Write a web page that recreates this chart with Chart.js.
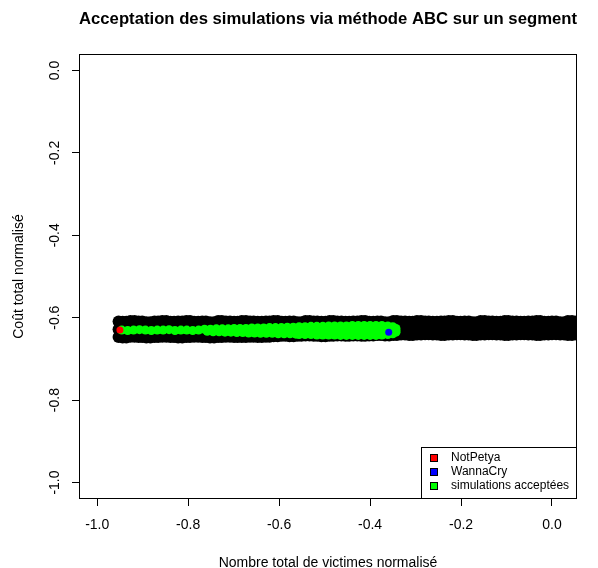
<!DOCTYPE html>
<html>
<head>
<meta charset="utf-8">
<script src="https://cdn.jsdelivr.net/npm/chart.js@4.4.1/dist/chart.umd.min.js"></script>
<style>
  body { margin: 0; background: #fff; }
  #abcChart { display: block; }
</style>
</head>
<body>
<canvas id="abcChart" width="598" height="568"></canvas>
<script>
// axis ticks
const xTicks = [-1.0, -0.8, -0.6, -0.4, -0.2, 0.0];
const yTicks = [-1.0, -0.8, -0.6, -0.4, -0.2, 0.0];

// observed events
const notPetya = { x: -0.950, y: -0.630 };
const wannaCry = { x: -0.359, y: -0.635 };

// all simulations (dense black cloud), read column by column
const simX = [
  -0.953, -0.936, -0.918, -0.901, -0.883, -0.866, -0.848, -0.831, -0.813, -0.796,
  -0.778, -0.761, -0.743, -0.726, -0.708, -0.691, -0.673, -0.656, -0.638, -0.621,
  -0.603, -0.586, -0.568, -0.551, -0.533, -0.516, -0.498, -0.481, -0.463, -0.446,
  -0.428, -0.411, -0.393, -0.376, -0.358, -0.341, -0.323, -0.306, -0.288, -0.271,
  -0.253, -0.236, -0.218, -0.201, -0.183, -0.166, -0.148, -0.131, -0.113, -0.096,
  -0.078, -0.061, -0.043, -0.026, -0.008, 0.009, 0.027, 0.044, 0.062
];
// extra simulations along the upper and lower edges of the cloud
const simXEdge = [
  -0.944, -0.927, -0.909, -0.892, -0.874, -0.857, -0.839, -0.822, -0.804, -0.787,
  -0.769, -0.752, -0.734, -0.717, -0.699, -0.682, -0.664, -0.647, -0.629, -0.612,
  -0.594, -0.577, -0.559, -0.542, -0.524, -0.507, -0.489, -0.472, -0.454, -0.437,
  -0.419, -0.402, -0.384, -0.367, -0.349, -0.332, -0.314, -0.297, -0.279, -0.262,
  -0.244, -0.227, -0.209, -0.192, -0.174, -0.157, -0.139, -0.122, -0.104, -0.087,
  -0.069, -0.052, -0.034, -0.017, 0.000, 0.018, 0.035, 0.053
];
const simYTop = [
  -0.609, -0.610, -0.608, -0.609, -0.611, -0.609, -0.608, -0.610, -0.609, -0.608,
  -0.610, -0.609, -0.611, -0.608, -0.609, -0.610, -0.608, -0.609, -0.610, -0.609,
  -0.608, -0.610, -0.609, -0.611, -0.608, -0.609, -0.610, -0.608, -0.609, -0.610,
  -0.609, -0.608, -0.610, -0.609, -0.611, -0.608, -0.609, -0.610, -0.608, -0.609,
  -0.610, -0.609, -0.608, -0.610, -0.609, -0.611, -0.608, -0.609, -0.610, -0.608,
  -0.609, -0.610, -0.609, -0.608, -0.610, -0.609, -0.611, -0.608, -0.609
];
const simYMid = [
  -0.628, -0.627, -0.629, -0.628, -0.627, -0.628, -0.629, -0.628, -0.627, -0.628,
  -0.629, -0.628, -0.627, -0.628, -0.629, -0.628, -0.627, -0.628, -0.629, -0.628,
  -0.627, -0.628, -0.629, -0.628, -0.627, -0.628, -0.629, -0.628, -0.627, -0.628,
  -0.629, -0.628, -0.627, -0.628, -0.629, -0.628, -0.627, -0.628, -0.629, -0.628,
  -0.627, -0.628, -0.629, -0.628, -0.627, -0.628, -0.629, -0.628, -0.627, -0.628,
  -0.629, -0.628, -0.627, -0.628, -0.629, -0.628, -0.627, -0.628, -0.629
];
const simYBot = [
  -0.647, -0.648, -0.646, -0.647, -0.648, -0.647, -0.646, -0.647, -0.648, -0.647,
  -0.646, -0.647, -0.648, -0.647, -0.646, -0.647, -0.647, -0.646, -0.647, -0.646,
  -0.645, -0.644, -0.645, -0.644, -0.643, -0.644, -0.645, -0.644, -0.643, -0.644,
  -0.643, -0.644, -0.643, -0.642, -0.643, -0.642, -0.641, -0.642, -0.641, -0.640,
  -0.641, -0.642, -0.641, -0.640, -0.641, -0.642, -0.641, -0.640, -0.641, -0.642,
  -0.641, -0.640, -0.641, -0.642, -0.641, -0.640, -0.641, -0.642, -0.641
];

// accepted simulations (green)
const accX = [
  // thin left part
  -0.946, -0.933, -0.920, -0.907, -0.894, -0.881, -0.868, -0.855, -0.842, -0.829, -0.816, -0.803, -0.790, -0.777,
  // middle, upper / lower
  -0.764, -0.751, -0.738, -0.725, -0.712, -0.699, -0.686, -0.673, -0.660, -0.647, -0.634, -0.621, -0.608, -0.595, -0.582, -0.569,
  -0.758, -0.745, -0.732, -0.719, -0.706, -0.693, -0.680, -0.667, -0.654, -0.641, -0.628, -0.615, -0.602, -0.589, -0.576, -0.563,
  // wide right part, three rows
  -0.556, -0.543, -0.530, -0.517, -0.504, -0.491, -0.478, -0.465, -0.452, -0.439, -0.426, -0.413, -0.400, -0.387, -0.374, -0.361, -0.350, -0.343,
  -0.556, -0.543, -0.530, -0.517, -0.504, -0.491, -0.478, -0.465, -0.452, -0.439, -0.426, -0.413, -0.400, -0.387, -0.374, -0.361, -0.350, -0.343,
  -0.556, -0.543, -0.530, -0.517, -0.504, -0.491, -0.478, -0.465, -0.452, -0.439, -0.426, -0.413, -0.400, -0.387, -0.374, -0.361, -0.350, -0.343
];
const accY = [
  -0.630, -0.631, -0.630, -0.629, -0.630, -0.631, -0.630, -0.630, -0.629, -0.631, -0.630, -0.630, -0.631, -0.630,
  -0.628, -0.628, -0.627, -0.627, -0.627, -0.626, -0.626, -0.626, -0.625, -0.625, -0.625, -0.624, -0.624, -0.624, -0.623, -0.623,
  -0.633, -0.634, -0.634, -0.635, -0.635, -0.636, -0.636, -0.637, -0.637, -0.638, -0.638, -0.638, -0.639, -0.639, -0.639, -0.640,
  -0.622, -0.622, -0.621, -0.621, -0.621, -0.620, -0.620, -0.620, -0.620, -0.619, -0.619, -0.619, -0.619, -0.619, -0.619, -0.620, -0.622, -0.626,
  -0.631, -0.630, -0.631, -0.632, -0.631, -0.630, -0.631, -0.632, -0.631, -0.630, -0.631, -0.632, -0.631, -0.630, -0.631, -0.632, -0.631, -0.631,
  -0.641, -0.641, -0.641, -0.642, -0.642, -0.642, -0.642, -0.643, -0.643, -0.643, -0.643, -0.643, -0.643, -0.643, -0.642, -0.641, -0.639, -0.635
];

const legendLabels = ['NotPetya', 'WannaCry', 'simulations acceptées'];
const legendColors = ['#ff0000', '#0000ff', '#00ff00'];

const FONT = "'Liberation Sans', Arial, sans-serif";

var simData = [];
simX.forEach(function(x, i) {
    simData.push({ x: x, y: simYTop[i] }, { x: x, y: simYMid[i] }, { x: x, y: simYBot[i] });
});
simXEdge.forEach(function(x, i) {
    simData.push({ x: x, y: simYTop[i + 1] }, { x: x, y: simYBot[i + 1] });
});
var accData = accX.map(function(x, i) { return { x: x, y: accY[i] }; });

// frame round the plot region
const plotBox = {
    id: 'plotBox',
    afterDatasetsDraw(chart) {
        const { ctx, chartArea: a } = chart;
        ctx.save();
        ctx.strokeStyle = '#000';
        ctx.lineWidth = 1;
        ctx.strokeRect(Math.round(a.left) + 0.5, Math.round(a.top) + 0.5,
            Math.round(a.right - a.left) - 1, Math.round(a.bottom - a.top) - 1);
        ctx.restore();
    }
};

// boxed legend in the bottom right corner, like R's legend("bottomright")
const boxLegend = {
    id: 'boxLegend',
    afterDraw(chart) {
        const { ctx, chartArea: a } = chart;
        ctx.save();
        ctx.font = '12px ' + FONT;
        const textW = Math.max(...legendLabels.map(t => ctx.measureText(t).width));
        const rowH = 14;
        const w = Math.ceil(textW) + 37;
        const h = rowH * legendLabels.length + 10;
        const x0 = Math.round(a.right - w), y0 = Math.round(a.bottom - h);
        ctx.fillStyle = '#fff';
        ctx.fillRect(x0, y0, w, h);
        ctx.strokeStyle = '#000';
        ctx.lineWidth = 1;
        ctx.strokeRect(x0 + 0.5, y0 + 0.5, w - 1, h - 1);
        ctx.textBaseline = 'middle';
        legendLabels.forEach(function(t, i) {
            const cy = y0 + 11 + i * rowH;
            ctx.fillStyle = legendColors[i];
            ctx.fillRect(x0 + 9.5, cy - 3.5, 7, 7);
            ctx.strokeRect(x0 + 9.5, cy - 3.5, 7, 7);
            ctx.fillStyle = '#000';
            ctx.fillText(t, x0 + 30, cy);
        });
        ctx.restore();
    }
};

const gridOpts = {
    drawOnChartArea: false,
    drawTicks: true,
    tickLength: 7,
    tickColor: '#000',
    tickWidth: 1
};

new Chart(document.getElementById('abcChart').getContext('2d'), {
    type: 'scatter',
    data: {
        datasets: [{
            label: legendLabels[0],
            data: [notPetya],
            pointRadius: 3.5,
            pointBackgroundColor: legendColors[0],
            pointBorderWidth: 0
        }, {
            label: legendLabels[1],
            data: [wannaCry],
            pointRadius: 3.5,
            pointBackgroundColor: legendColors[1],
            pointBorderWidth: 0
        }, {
            label: legendLabels[2],
            data: accData,
            pointRadius: 4.5,
            pointBackgroundColor: legendColors[2],
            pointBorderWidth: 0
        }, {
            label: 'simulations',
            data: simData,
            pointRadius: 6,
            pointBackgroundColor: '#000',
            pointBorderWidth: 0
        }]
    },
    options: {
        responsive: false,
        animation: false,
        events: [],
        devicePixelRatio: 1,
        layout: { padding: { left: 0, right: 21, top: 0, bottom: 0 } },
        plugins: {
            legend: { display: false },
            tooltip: { enabled: false },
            title: {
                display: true,
                fullSize: false,
                text: 'Acceptation des simulations via méthode ABC sur un segment',
                color: '#000',
                font: { family: FONT, size: 17, weight: 'bold', lineHeight: 1.2 },
                padding: { top: 9, bottom: 24.6 }
            }
        },
        scales: {
            x: {
                type: 'linear',
                min: -1.04,
                max: 0.055,
                afterBuildTicks: s => { s.ticks = xTicks.map(v => ({ value: v })); },
                afterFit: s => { s.height = 69; },
                grid: gridOpts,
                border: { display: false },
                ticks: {
                    color: '#000',
                    font: { family: FONT, size: 14 },
                    padding: 11,
                    maxRotation: 0,
                    autoSkip: false,
                    callback: v => v.toFixed(1)
                },
                title: {
                    display: true,
                    text: 'Nombre total de victimes normalisé',
                    color: '#000',
                    font: { family: FONT, size: 14, lineHeight: 1 },
                    padding: { top: 0, bottom: -2 }
                }
            },
            y: {
                type: 'linear',
                min: -1.04,
                max: 0.04,
                afterBuildTicks: s => { s.ticks = yTicks.map(v => ({ value: v })); },
                afterFit: s => { s.width = 79; },
                grid: gridOpts,
                border: { display: false },
                ticks: {
                    color: '#000',
                    font: { family: FONT, size: 14 },
                    padding: 5,
                    minRotation: 90,
                    maxRotation: 90,
                    crossAlign: 'center',
                    autoSkip: false,
                    callback: v => v.toFixed(1)
                },
                title: {
                    display: true,
                    text: 'Coût total normalisé',
                    color: '#000',
                    font: { family: FONT, size: 14, lineHeight: 1 },
                    padding: { top: 12, bottom: 0 }
                }
            }
        }
    },
    plugins: [plotBox, boxLegend]
});
</script>
</body>
</html>
